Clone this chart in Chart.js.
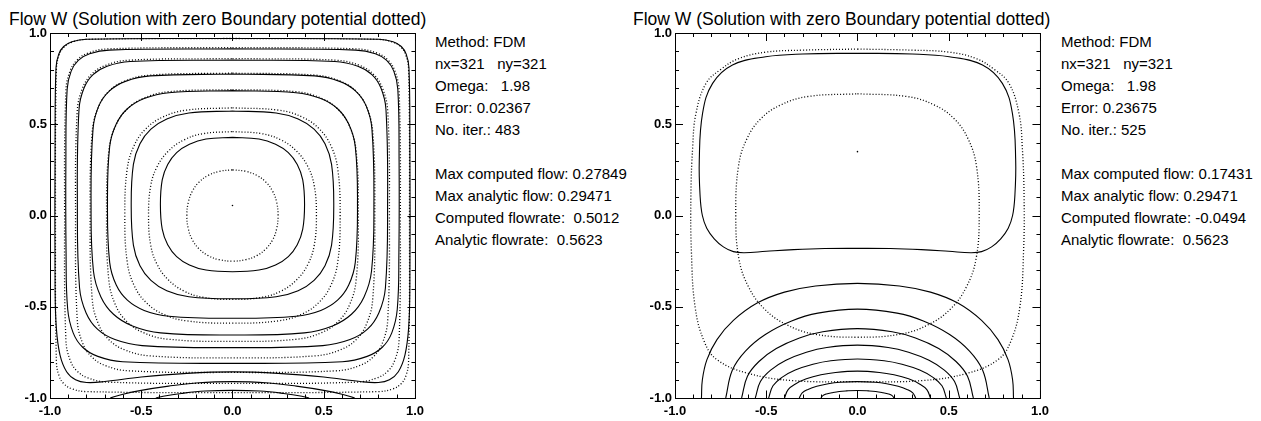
<!DOCTYPE html>
<html>
<head>
<meta charset="utf-8">
<script src="https://cdn.jsdelivr.net/npm/chart.js@4.4.0/dist/chart.umd.min.js"></script>
<style>
body { margin:0; background:#fff; width:1261px; height:421px; overflow:hidden; position:relative;
       font-family:"Liberation Sans", Arial, Helvetica, sans-serif; color:#000; }
canvas { position:absolute; top:0; }
.titulo { position:absolute; top:9px; font-size:17.5px; line-height:20px; white-space:pre; }
.info { position:absolute; top:31px; font-size:15px; line-height:22px; white-space:pre; }
</style>
</head>
<body>
<div class="titulo" id="tituloIzq" style="left:9px"></div>
<div class="titulo" id="tituloDer" style="left:633px"></div>
<div class="info" id="infoIzq" style="left:435px"></div>
<div class="info" id="infoDer" style="left:1061px"></div>
<canvas id="graficoIzq" width="430" height="421" style="left:0"></canvas>
<canvas id="graficoDer" width="430" height="421" style="left:625px"></canvas>
<script>
const titulo = "Flow W (Solution with zero Boundary potential dotted)";
const ticksEjes = [-1.0, -0.5, 0.0, 0.5, 1.0];

const infoIzq = ["Method: FDM", "nx=321   ny=321", "Omega:   1.98", "Error: 0.02367", "No. iter.: 483", "",
    "Max computed flow: 0.27849", "Max analytic flow: 0.29471", "Computed flowrate:  0.5012", "Analytic flowrate:  0.5623"];
const infoDer = ["Method: FDM", "nx=321   ny=321", "Omega:   1.98", "Error: 0.23675", "No. iter.: 525", "",
    "Max computed flow: 0.17431", "Max analytic flow: 0.29471", "Computed flowrate: -0.0494", "Analytic flowrate:  0.5623"];

// panel izquierdo: contornos calculados (mitad derecha, de arriba hacia abajo)
const izqCalculados = [
    [[0,.97],[.801,.966],[.88,.952],[.925,.926],[.952,.884],[.967,.81],[.972,.4],[.972,-.4],[.965,-.62],[.945,-.765],[.909,-.856],[.86,-.9],[.8,-.915],[.7,-.91],[.5,-.885],[.25,-.865],[0,-.857]],
    [[0,.913],[.676,.906],[.783,.886],[.845,.85],[.884,.791],[.906,.692],[.913,.3],[.912,-.2],[.903,-.514],[.873,-.643],[.821,-.722],[.738,-.772],[.602,-.801],[0,-.81]],
    [[0,.852],[.561,.844],[.687,.818],[.764,.772],[.813,.7],[.841,.582],[.85,.06],[.838,-.397],[.802,-.534],[.74,-.623],[.644,-.68],[.495,-.713],[0,-.724]],
    [[0,.775],[.451,.765],[.587,.735],[.675,.682],[.732,.602],[.764,.476],[.775,.06],[.762,-.304],[.721,-.446],[.652,-.541],[.548,-.605],[.394,-.643],[0,-.655]],
    [[0,.684],[.348,.673],[.484,.641],[.576,.585],[.637,.501],[.673,.377],[.685,.06],[.673,-.257],[.637,-.381],[.576,-.464],[.484,-.52],[.348,-.552],[0,-.563]],
    [[0,.573],[.239,.562],[.36,.529],[.447,.473],[.507,.393],[.543,.28],[.555,.06],[.543,-.162],[.507,-.275],[.447,-.355],[.36,-.412],[.239,-.445],[0,-.456]],
    [[0,.428],[.145,.419],[.236,.391],[.306,.345],[.355,.28],[.385,.195],[.395,.06],[.385,-.075],[.355,-.16],[.306,-.225],[.236,-.271],[.145,-.299],[0,-.308]]
];
// arcos abiertos que tocan el borde inferior (mitad derecha)
const izqArcos = [
    [[0,-.91],[.2,-.918],[.35,-.935],[.5,-.958],[.6,-.979],[.67,-1]],
    [[0,-.958],[.15,-.962],[.28,-.975],[.38,-.99],[.42,-1]]
];
// solucion analitica: un cuadrante, de arriba hacia el lado
const izqAnaliticos = [
    [[0,.25],[.073,.242],[.133,.22],[.183,.183],[.22,.133],[.242,.073],[.25,0]],
    [[0,.46],[.163,.448],[.27,.412],[.352,.352],[.412,.27],[.448,.163],[.46,0]],
    [[0,.59],[.254,.577],[.383,.539],[.475,.475],[.539,.383],[.577,.254],[.59,0]],
    [[0,.69],[.351,.678],[.488,.642],[.58,.58],[.642,.488],[.678,.351],[.69,0]],
    [[0,.78],[.454,.769],[.591,.736],[.679,.679],[.736,.591],[.769,.454],[.78,0]],
    [[0,.86],[.567,.851],[.695,.823],[.773,.773],[.823,.695],[.851,.567],[.86,0]],
    [[0,.92],[.681,.913],[.789,.891],[.852,.852],[.891,.789],[.913,.681],[.92,0]],
    [[0,.97],[.8,.965],[.879,.95],[.923,.923],[.95,.879],[.965,.8],[.97,0]]
];
const izqMaximo = [0, .055];

// panel derecho
const derCalculados = [
    [[0,.889],[.3,.885],[.503,.87],[.685,.825],[.794,.724],[.849,.56],[.867,.3],[.862,.1],[.85,.0],[.826,-.07],[.785,-.128],[.735,-.172],[.68,-.198],[.62,-.204],[.5,-.196],[.35,-.187],[.18,-.181],[0,-.18]]
];
const derArcos = [
    [[0,-.372],[.23,-.386],[.4,-.42],[.55,-.48],[.68,-.575],[.77,-.68],[.825,-.79],[.85,-.9],[.855,-1]],
    [[0,-.513],[.217,-.535],[.361,-.578],[.505,-.652],[.614,-.743],[.686,-.848],[.722,-1]],
    [[0,-.62],[.19,-.637],[.318,-.671],[.445,-.729],[.54,-.8],[.603,-.881],[.635,-1]],
    [[0,-.71],[.168,-.723],[.28,-.749],[.392,-.793],[.476,-.847],[.532,-.91],[.56,-1]],
    [[0,-.786],[.146,-.796],[.244,-.815],[.341,-.847],[.414,-.887],[.463,-.933],[.487,-1]],
    [[0,-.853],[.12,-.86],[.2,-.873],[.28,-.895],[.34,-.923],[.38,-.954],[.40,-1]],
    [[0,-.91],[.096,-.914],[.16,-.922],[.223,-.936],[.271,-.953],[.303,-.972],[.319,-1]],
    [[0,-.959],[.06,-.961],[.1,-.964],[.14,-.971],[.17,-.978],[.19,-.987],[.2,-1]]
];
const derAnaliticos = [
    [[0,.912],[.3,.906],[.503,.895],[.65,.86],[.75,.8],[.83,.724],[.885,.56],[.903,.377],[.913,.1],[.91,-.2],[.89,-.5],[.84,-.69],[.77,-.79],[.6,-.865],[.35,-.905],[0,-.91]],
    [[0,.667],[.271,.652],[.42,.606],[.53,.53],[.606,.42],[.652,.271],[.667,0],[.65,-.236],[.597,-.391],[.511,-.511],[.391,-.597],[.236,-.65],[0,-.667]]
];
const derMaximo = [0, .35];

// mitad derecha -> curva cerrada (simetria en x)
function cerrarMitad(mitad) {
    const izq = mitad.slice().reverse().slice(1).map(([x, y]) => [-x, y]);
    return mitad.concat(izq);
}
// cuadrante -> mitad derecha (simetria en y)
function mitadDeCuadrante(q) {
    const abajo = q.slice().reverse().slice(1).map(([x, y]) => [x, -y]);
    return q.concat(abajo);
}
// mitad de arco -> arco completo
function arcoCompleto(mitad) {
    const izq = mitad.slice().reverse().map(([x, y]) => [-x, y]);
    return izq.concat(mitad.slice(1));
}

function linea(puntos, punteada) {
    return {
        data: puntos.map(([x, y]) => ({ x, y })),
        showLine: true,
        borderColor: "#000",
        borderWidth: punteada ? 1.3 : 1.1,
        borderDash: punteada ? [1, 2] : [],
        pointRadius: 0,
        tension: 0.4,
        fill: false
    };
}

function datosPanel(calculados, arcos, analiticosCerrados, maximo) {
    const ds = [];
    analiticosCerrados.forEach(c => ds.push(linea(c, true)));
    calculados.forEach(c => ds.push(linea(cerrarMitad(c), false)));
    arcos.forEach(a => ds.push(linea(arcoCompleto(a), false)));
    ds.push({ data: [{ x: maximo[0], y: maximo[1] }], pointRadius: 0.8, pointBackgroundColor: "#000", borderWidth: 0, showLine: false });
    return ds;
}

// marco estilo IDL con marcas hacia adentro en los cuatro lados
const marcoIDL = {
    id: "marcoIDL",
    afterDatasetsDraw(chart) {
        const { ctx, chartArea: { left, right, top, bottom }, scales: { x, y } } = chart;
        ctx.save();
        ctx.strokeStyle = "#000";
        ctx.lineWidth = 1;
        ctx.strokeRect(left + 0.5, top + 0.5, right - left, bottom - top);
        ctx.beginPath();
        for (let i = -10; i <= 10; i++) {
            const v = i / 10;
            const largo = i % 5 === 0 ? 8 : 4;
            const px = Math.round(x.getPixelForValue(v)) + 0.5;
            const py = Math.round(y.getPixelForValue(v)) + 0.5;
            ctx.moveTo(px, top); ctx.lineTo(px, top + largo);
            ctx.moveTo(px, bottom + 0.5); ctx.lineTo(px, bottom + 0.5 - largo);
            ctx.moveTo(left, py); ctx.lineTo(left + largo, py);
            ctx.moveTo(right + 0.5, py); ctx.lineTo(right + 0.5 - largo, py);
        }
        ctx.stroke();
        ctx.restore();
    }
};

const fuenteTicks = { family: "'Liberation Sans', Arial, sans-serif", size: 13, weight: "bold" };

function crearGrafico(id, datasets) {
    return new Chart(document.getElementById(id), {
        type: "scatter",
        data: { datasets },
        options: {
            responsive: false,
            animation: false,
            layout: { padding: { top: 33, right: 14, left: 0, bottom: 0 } },
            plugins: { legend: { display: false }, tooltip: { enabled: false } },
            scales: {
                x: {
                    min: -1, max: 1,
                    grid: { display: false, drawTicks: false },
                    border: { display: false },
                    afterBuildTicks: s => { s.ticks = ticksEjes.map(v => ({ value: v })); },
                    afterFit: s => { s.height = 23; },
                    ticks: { padding: 6, color: "#000", font: fuenteTicks, maxRotation: 0, autoSkip: false,
                             callback: v => Number(v).toFixed(1) }
                },
                y: {
                    min: -1, max: 1,
                    grid: { display: false, drawTicks: false },
                    border: { display: false },
                    afterBuildTicks: s => { s.ticks = ticksEjes.map(v => ({ value: v })); },
                    afterFit: s => { s.width = 50; },
                    ticks: { padding: 3, color: "#000", font: fuenteTicks, autoSkip: false,
                             callback: v => Number(v).toFixed(1) }
                }
            }
        },
        plugins: [marcoIDL]
    });
}

document.getElementById("tituloIzq").textContent = titulo;
document.getElementById("tituloDer").textContent = titulo;
document.getElementById("infoIzq").textContent = infoIzq.join("\n");
document.getElementById("infoDer").textContent = infoDer.join("\n");

crearGrafico("graficoIzq", datosPanel(izqCalculados, izqArcos, izqAnaliticos.map(q => cerrarMitad(mitadDeCuadrante(q))), izqMaximo));
crearGrafico("graficoDer", datosPanel(derCalculados, derArcos, derAnaliticos.map(cerrarMitad), derMaximo));
</script>
</body>
</html>
